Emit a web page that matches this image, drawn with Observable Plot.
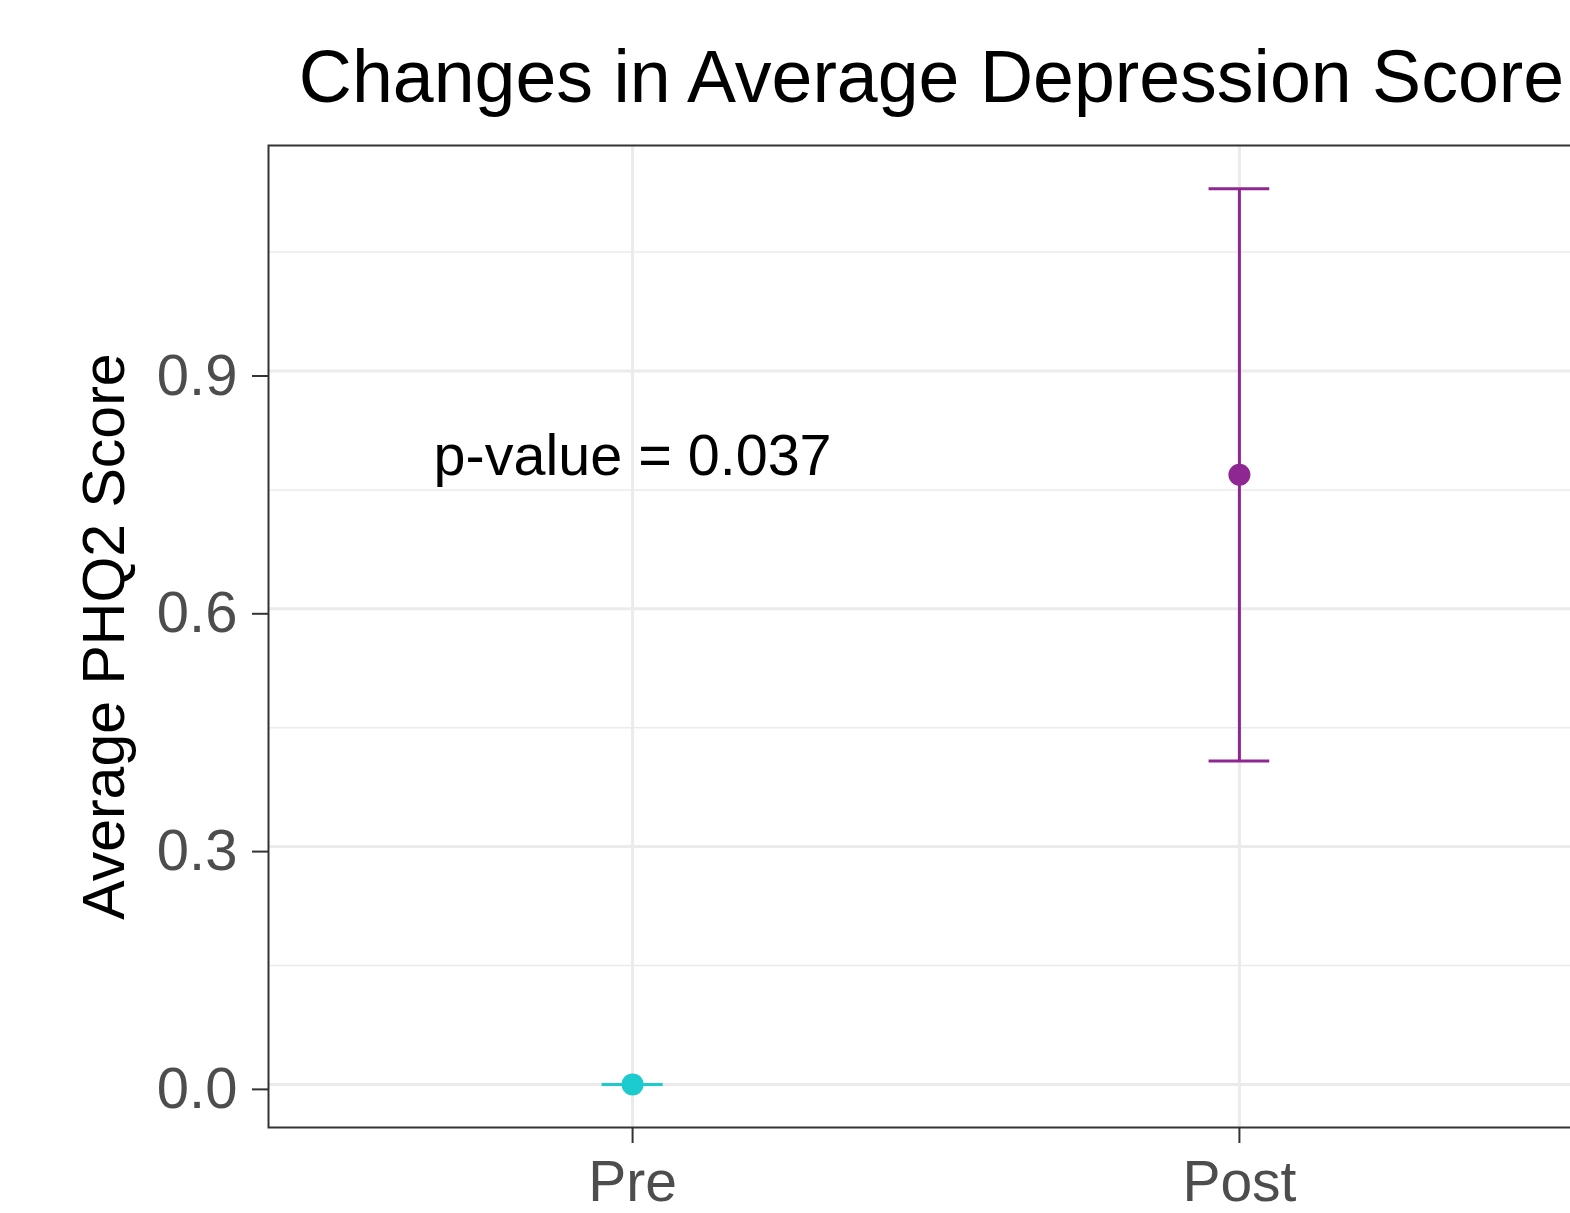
<!DOCTYPE html>
<html>
<head>
<meta charset="utf-8">
<script src="https://cdn.jsdelivr.net/npm/d3@7"></script>
<script src="https://cdn.jsdelivr.net/npm/@observablehq/plot@0.6"></script>
<style>
  html, body { margin: 0; padding: 0; background: #fff; overflow: hidden; }
  #wrap { position: relative; width: 1570px; height: 1213px; overflow: hidden; font-family: "Liberation Sans", Arial, sans-serif; }
  #title { position: absolute; top: 40px; left: 0; width: 1863px; text-align: center; font-size: 73.5px; line-height: 73.5px; color: #000; white-space: nowrap; }
  #chart { position: absolute; top: 0; left: 0; width: 1620px; height: 1213px; }
  #chart svg { max-width: none !important; width: 1620px; height: 1213px; }
</style>
</head>
<body>
<div id="wrap">
  <div id="chart"></div>
  <div id="title">Changes in Average Depression Score</div>
</div>
<script>
const groups = ["Pre", "Post"];
const means = [0, 0.769];
const lowers = [0, 0.408];
const uppers = [0, 1.130];
const colors = ["#1CCBCE", "#8E2792"];
const yTicks = [0, 0.3, 0.6, 0.9];
const yMinor = [0.15, 0.45, 0.75, 1.05];
const annotation = "p-value = 0.037";
const annotationGroup = "Pre";
const annotationY = 0.792;
const yLabel = "Average PHQ2 Score";

const rows = groups.map((g, i) => ({group: g, pos: i + 1, mean: means[i], lo: lowers[i], hi: uppers[i], color: colors[i]}));
const capHalf = 0.05;

const plot = Plot.plot({
  width: 1620,
  height: 1213,
  marginLeft: 268,
  marginRight: 17,
  marginTop: 145,
  marginBottom: 86,
  style: {fontFamily: "Liberation Sans, Arial, sans-serif", background: "transparent", maxWidth: "none", overflow: "visible"},
  x: {domain: [0.4, 2.6], ticks: [1, 2], tickFormat: d => groups[d - 1], label: null},
  y: {domain: [-0.0544, 1.1845], ticks: yTicks, tickFormat: d3.format(".1f"), label: null},
  marks: [
    Plot.ruleY(yMinor, {stroke: "#EBEBEB", strokeWidth: 1.5}),
    Plot.ruleY(yTicks, {stroke: "#EBEBEB", strokeWidth: 3}),
    Plot.ruleX(rows, {x: "pos", stroke: "#EBEBEB", strokeWidth: 3}),
    Plot.frame({stroke: "#333333", strokeWidth: 2}),
    Plot.axisY({ticks: yTicks, tickFormat: d3.format(".1f"), tickSize: 16, tickPadding: 15, fontSize: 58, color: "#4D4D4D", stroke: "#333333", strokeWidth: 2, dy: 5, label: null}),
    Plot.axisX({ticks: [1, 2], tickFormat: d => groups[d - 1], tickSize: 16, tickPadding: 17, fontSize: 57, color: "#4D4D4D", stroke: "#333333", strokeWidth: 2, label: null}),
    Plot.ruleX(rows, {x: "pos", y1: "lo", y2: "hi", stroke: "color", strokeWidth: 3}),
    Plot.ruleY(rows, {y: "hi", x1: d => d.pos - capHalf, x2: d => d.pos + capHalf, stroke: "color", strokeWidth: 3}),
    Plot.ruleY(rows, {y: "lo", x1: d => d.pos - capHalf, x2: d => d.pos + capHalf, stroke: "color", strokeWidth: 3}),
    Plot.dot(rows, {x: "pos", y: "mean", fill: "color", r: 11}),
    Plot.text([annotation], {x: groups.indexOf(annotationGroup) + 1, y: annotationY, text: d => d, fontSize: 57.5, fill: "#000", textAnchor: "middle", lineAnchor: "middle"}),
    Plot.text([yLabel], {frameAnchor: "left", dx: -145, rotate: -90, lineAnchor: "bottom", textAnchor: "middle", fontSize: 59, fill: "#000", text: d => d})
  ]
});
document.getElementById("chart").appendChild(plot);
</script>
</body>
</html>
